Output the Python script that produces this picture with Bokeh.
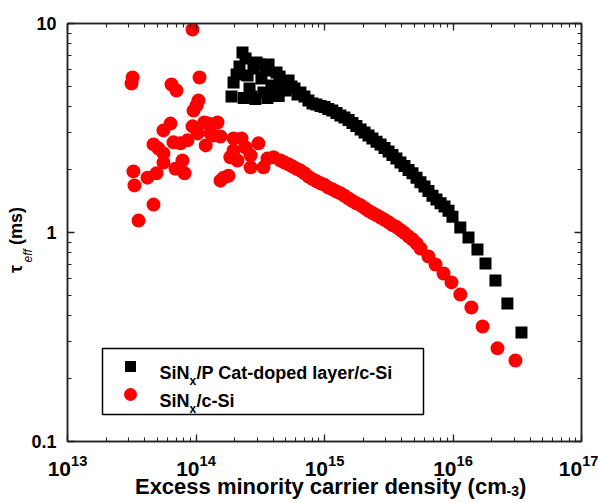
import json
from bokeh.plotting import figure
from bokeh.models import (LogAxis, FixedTicker, LogTicker, Range1d, LinearScale, Label,
                          CustomJSTickFormatter)
from bokeh.embed import file_html
from bokeh.resources import INLINE

# ---------------- data ----------------
# SiNx / P Cat-doped layer / c-Si  (black squares)
cat_density = [
    1.89e14, 1.96e14, 2.07e14, 2.18e14, 2.30e14, 2.35e14, 2.43e14, 2.52e14, 2.61e14, 2.70e14,
    2.80e14, 2.90e14, 2.96e14, 3.12e14, 3.23e14, 3.35e14, 3.47e14, 3.60e14, 3.67e14, 3.87e14,
    4.01e14, 4.23e14, 4.40e14, 4.47e14, 4.71e14, 4.97e14, 5.25e14, 5.53e14, 5.84e14, 6.16e14,
    6.50e14, 6.98e14, 7.50e14,
    8.07e14, 8.66e14, 9.31e14, 1.00e15, 1.07e15, 1.15e15, 1.24e15, 1.33e15, 1.43e15, 1.54e15,
    1.65e15, 1.77e15, 1.91e15, 2.05e15, 2.20e15, 2.36e15, 2.54e15, 2.73e15, 2.93e15, 3.15e15,
    3.38e15, 3.63e15, 3.90e15, 4.19e15, 4.51e15, 4.84e15, 5.20e15, 5.58e15, 6.00e15, 6.44e15,
    6.92e15, 7.44e15, 8.00e15, 8.59e15, 9.23e15, 9.91e15,
    1.14e16, 1.32e16, 1.55e16, 1.79e16, 2.14e16, 2.65e16, 3.41e16,
]
cat_tau = [
    4.48, 5.22, 5.70, 6.22, 7.27, 4.40, 6.80, 5.64, 4.89, 4.48,
    6.09, 4.35, 6.51, 6.36, 5.45, 4.68, 5.96, 4.40, 6.36, 5.05,
    4.57, 5.83, 4.50, 5.57, 5.05, 4.78, 5.34, 5.00, 4.89, 4.57,
    4.68, 4.48, 4.28,
    4.14, 4.10, 4.03, 3.99, 3.90, 3.83, 3.73, 3.63, 3.55, 3.45,
    3.34, 3.23, 3.11, 3.01, 2.91, 2.82, 2.72, 2.64, 2.54, 2.44,
    2.35, 2.26, 2.16, 2.08, 1.99, 1.92, 1.83, 1.74, 1.66, 1.58,
    1.50, 1.44, 1.38, 1.33, 1.27, 1.19,
    1.057, 0.946, 0.829, 0.711, 0.589, 0.457, 0.332,
]

# SiNx / c-Si  (red circles)
bare_density = [
    9.39e13, 3.21e13, 3.15e13, 1.065e14, 6.45e13, 7.05e13, 1.045e14, 1.01e14, 9.56e13, 9.39e13,
    1.16e14, 1.47e14, 6.33e13, 5.58e13, 1.55e14, 1.03e14, 1.30e14, 7.57e13, 8.59e13, 1.19e14,
    6.68e13, 4.67e13, 5.11e13, 5.58e13, 5.58e13, 7.85e13, 6.92e13, 8.14e13, 3.26e13, 4.19e13,
    4.93e13, 3.32e13, 4.67e13, 3.57e13, 1.55e14, 1.79e14, 1.64e14, 1.96e14, 1.96e14, 2.26e14,
    2.43e14, 3.06e14, 2.66e14, 1.85e14, 2.10e14, 2.66e14, 3.35e14, 1.25e14, 1.37e14, 3.60e14,
    4.01e14,
    4.55e14, 4.88e14, 5.25e14, 5.64e14, 6.05e14, 6.50e14, 6.98e14, 7.50e14, 8.07e14, 8.66e14,
    9.31e14, 1.00e15, 1.07e15, 1.15e15, 1.24e15, 1.33e15, 1.43e15, 1.54e15, 1.65e15, 1.77e15,
    1.91e15, 2.05e15, 2.20e15, 2.36e15, 2.54e15, 2.73e15, 2.93e15, 3.15e15, 3.38e15, 3.63e15,
    3.90e15, 4.19e15, 4.51e15, 4.84e15, 5.20e15,
    5.58e15, 6.44e15, 7.31e15, 8.44e15, 9.73e15, 1.14e16, 1.39e16, 1.70e16, 2.22e16, 3.06e16,
]
bare_tau = [
    9.36, 5.52, 5.16, 5.52, 5.11, 4.78, 4.28, 4.05, 3.83, 3.22,
    3.36, 3.36, 3.32, 3.08, 2.88, 2.98, 2.98, 2.67, 2.76, 2.61,
    2.70, 2.64, 2.52, 2.39, 2.16, 2.21, 2.02, 1.92, 1.96, 1.83,
    1.92, 1.68, 1.36, 1.14, 1.77, 1.87, 1.83, 2.82, 2.47, 2.82,
    2.55, 2.67, 2.34, 2.29, 2.21, 2.05, 2.05, 3.32, 2.91, 2.26,
    2.29,
    2.21, 2.16, 2.12, 2.07, 2.02, 1.98, 1.92, 1.85, 1.80, 1.76,
    1.72, 1.69, 1.64, 1.61, 1.57, 1.54, 1.50, 1.455, 1.415, 1.38,
    1.35, 1.31, 1.27, 1.24, 1.21, 1.18, 1.15, 1.12, 1.086, 1.062,
    1.028, 0.994, 0.957, 0.926, 0.886,
    0.838, 0.768, 0.703, 0.637, 0.577, 0.505, 0.438, 0.355, 0.279, 0.244,
]

x_decades = [13, 14, 15, 16, 17]
y_ticks = [0.1, 1, 10]
y_tick_labels = ["0.1", "1", "10"]
legend_labels = [("SiN", "x", "/P Cat-doped layer/c-Si"), ("SiN", "x", "/c-Si")]
NB = "\u00a0"
x_title = NB * 2 + "Excess minority carrier density (cm" + NB * 2 + ")"
x_title_sup = "-3"
y_title = "\u03c4" + NB * 4 + "(ms)" + NB * 3
y_title_sub = "eff"

FONT = "Liberation Sans"
AX = "#222222"

y_minor = [m * t for t in y_ticks[:-1] for m in range(2, 10)]

p = figure(width=598, height=503, x_axis_type="log", y_axis_type="log",
           x_range=Range1d(10.0 ** x_decades[0], 10.0 ** x_decades[-1]),
           y_range=Range1d(y_ticks[0], y_ticks[-1]),
           output_backend="svg", toolbar_location=None,
           min_border_left=67, min_border_right=17, min_border_top=23, min_border_bottom=62)
p.background_fill_color = "white"
p.border_fill_color = "white"
p.outline_line_color = AX
p.outline_line_width = 1.5
p.xgrid.visible = False
p.ygrid.visible = False

# pixel-space helper coordinates for texts / legend
p.extra_x_ranges = {"px": Range1d(67, 581)}
p.extra_y_ranges = {"px": Range1d(441, 23)}
p.extra_x_scales = {"px": LinearScale()}
p.extra_y_scales = {"px": LinearScale()}


def style_axis(ax, ticker, show_labels):
    ax.ticker = ticker
    ax.axis_line_color = AX
    ax.axis_line_width = 1.5
    ax.major_tick_line_color = AX
    ax.major_tick_line_width = 1.3
    ax.minor_tick_line_color = AX
    ax.minor_tick_line_width = 1.1
    ax.major_tick_in = 7
    ax.major_tick_out = 0
    ax.minor_tick_in = 4
    ax.minor_tick_out = 0
    if not show_labels:
        ax.formatter = CustomJSTickFormatter(code="return '';")
        ax.major_label_text_font_size = "6px"
        ax.major_label_standoff = 0


ylab_code = "const m = %s; const s = m[String(tick)]; return s === undefined ? '' : s;" % json.dumps(
    {str(t): s for t, s in zip(y_ticks, y_tick_labels)})

xb = p.xaxis[0]
yl = p.yaxis[0]
style_axis(xb, LogTicker(num_minor_ticks=10), True)
style_axis(yl, FixedTicker(ticks=y_ticks, minor_ticks=y_minor), True)
xb.major_label_text_font = FONT
xb.major_label_text_font_style = "bold"
xb.major_label_text_font_size = "21px"
xb.major_label_text_color = "black"
xb.major_label_standoff = 13
xb.axis_label = x_title
xb.axis_label_text_font = FONT
xb.axis_label_text_font_style = "bold"
xb.axis_label_text_font_size = "22px"
xb.axis_label_text_color = "black"
xb.axis_label_standoff = -5

yl.formatter = CustomJSTickFormatter(code=ylab_code)
yl.major_label_text_font = FONT
yl.major_label_text_font_style = "bold"
yl.major_label_text_font_size = "18px"
yl.major_label_text_color = "black"
yl.major_label_standoff = 11
yl.axis_label = y_title
yl.axis_label_text_font = FONT
yl.axis_label_text_font_style = "bold"
yl.axis_label_text_font_size = "18px"
yl.axis_label_text_color = "black"
yl.axis_label_standoff = 2

xa = LogAxis()
style_axis(xa, LogTicker(num_minor_ticks=10), False)
p.add_layout(xa, "above")
yr = LogAxis()
style_axis(yr, FixedTicker(ticks=y_ticks, minor_ticks=y_minor), False)
p.add_layout(yr, "right")

# data
p.scatter(cat_density, cat_tau, marker="square", size=12, color="black", line_width=0)
p.scatter(bare_density, bare_tau, marker="circle", size=14, color="#ff0000", line_width=0)

# legend (drawn in pixel space)
p.quad(left=[102], right=[423], top=[348], bottom=[414], fill_color="white",
       line_color="black", line_width=1.5, x_range_name="px", y_range_name="px")
p.scatter([130], [366], marker="square", size=11, color="black", line_width=0,
          x_range_name="px", y_range_name="px")
p.scatter([130], [394], marker="circle", size=13, color="#ff0000", line_width=0,
          x_range_name="px", y_range_name="px")


def lab(text, x, y, size, style="bold", angle=0, place="center"):
    lbl = Label(text=text, x=x, y=y, x_range_name="px", y_range_name="px",
                text_font=FONT, text_font_size=size, text_font_style=style,
                text_color="black", text_align="left", text_baseline="alphabetic",
                angle=angle, angle_units="deg")
    p.add_layout(lbl, place)


for (a, b, c), yb in zip(legend_labels, [372, 400]):
    lab(a, 159, yb, "18px")
    lab(b, 189, yb + 8, "12px")
    lab(c, 196, yb, "18px")

# superscript of the x title and subscript of the y title (kept in side panels,
# which are not clipped to the frame)
lab(x_title_sup, 506, 490, "14px", place="above")
lab(y_title_sub, 27, 262, "12px", style="italic", angle=90, place="right")

open("out.html", "w").write(file_html(p, INLINE))
